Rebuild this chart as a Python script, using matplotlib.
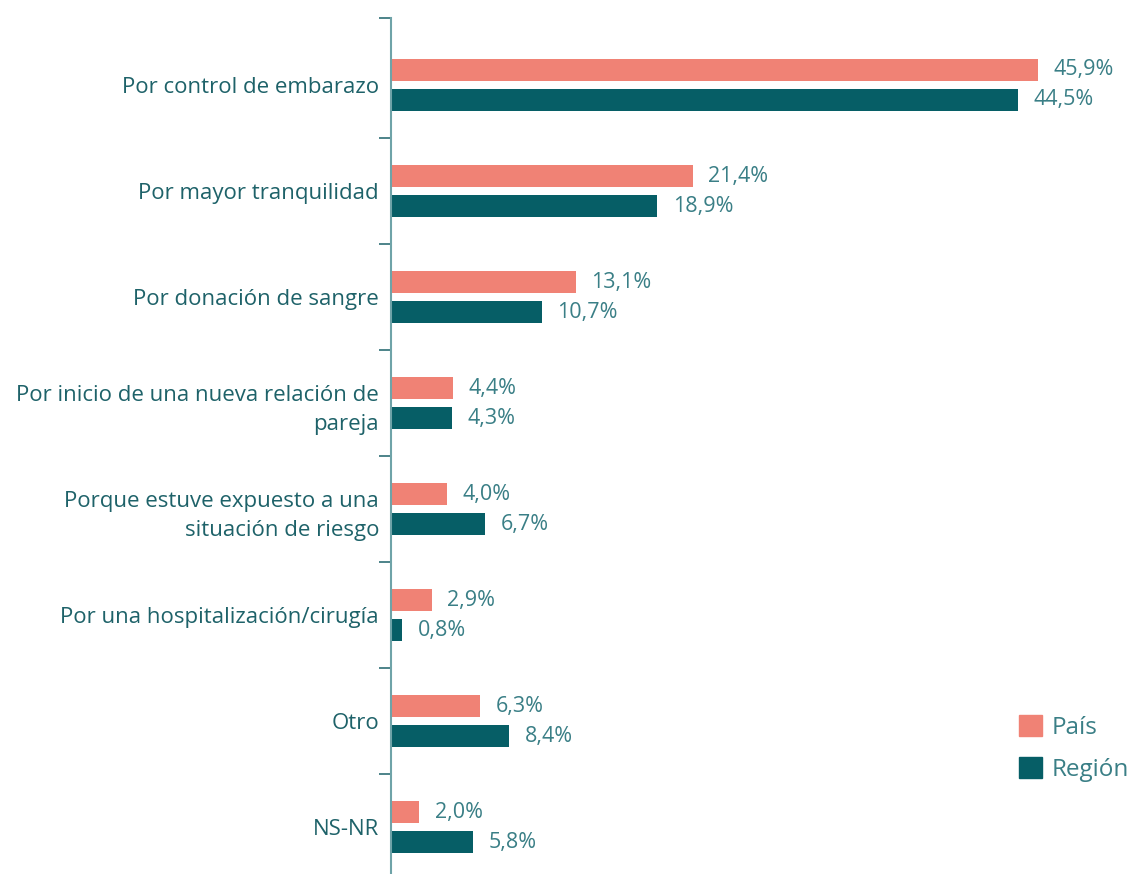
import matplotlib
matplotlib.use("Agg")
import matplotlib.pyplot as plt
import numpy as np
from matplotlib.patches import Patch

categories = [
    "Por control de embarazo",
    "Por mayor tranquilidad",
    "Por donación de sangre",
    "Por inicio de una nueva relación de\npareja",
    "Porque estuve expuesto a una\nsituación de riesgo",
    "Por una hospitalización/cirugía",
    "Otro",
    "NS-NR",
]
pais = [45.9, 21.4, 13.1, 4.4, 4.0, 2.9, 6.3, 2.0]
region = [44.5, 18.9, 10.7, 4.3, 6.7, 0.8, 8.4, 5.8]
series_names = ["País", "Región"]

PINK = "#F08275"
TEAL = "#065E66"
LABEL_C = "#1E6269"
VAL_C = "#3A7F86"

plt.rcParams['font.family'] = ['Open Sans', 'DejaVu Sans']

W, H = 1132, 874
fig = plt.figure(figsize=(W / 100, H / 100), dpi=100)
ax = fig.add_axes([391 / W, 0, (W - 391) / W, (H - 18) / H])

y = np.arange(len(categories))
off = 0.1415
h = 0.208
ax.barh(y - off, pais, height=h, color=PINK)
ax.barh(y + off, region, height=h, color=TEAL)

px_per = 14.1
ax.set_xlim(0, (W - 391) / px_per)
ax.set_ylim(7.443, -0.632)

for yi, v in zip(y, pais):
    ax.text(v + 1.1, yi - off, f"{v:.1f}%".replace(".", ","), va="center", ha="left",
            fontsize=15.5, color=VAL_C)
for yi, v in zip(y, region):
    ax.text(v + 1.1, yi + off, f"{v:.1f}%".replace(".", ","), va="center", ha="left",
            fontsize=15.5, color=VAL_C)

ax.set_yticks(y)
ax.set_yticklabels(categories, fontsize=16, color=LABEL_C, ha="right", linespacing=1.5)
ax.tick_params(axis="y", which="major", length=0, pad=8.6)
ax.set_yticks([-0.632] + list(np.arange(0.5, 7.5, 1.0)), minor=True)
ax.tick_params(axis="y", which="minor", length=9, width=1.2, color="#2E6E75", direction="out")
ax.set_xticks([])

for s in ["top", "right", "bottom"]:
    ax.spines[s].set_visible(False)
ax.spines["left"].set_color("#6FA3A8")
ax.spines["left"].set_linewidth(1.5)

handles = [Patch(color=PINK), Patch(color=TEAL)]
fig.legend(handles, series_names, loc="upper left", bbox_to_anchor=(1009 / W, 1 - 705 / H),
           frameon=False, handlelength=0.95, handleheight=0.95,
           labelspacing=0.72, handletextpad=0.4, labelcolor=VAL_C, borderaxespad=0,
           prop={'size': 17.5})

fig.savefig("out.png", dpi=100)
